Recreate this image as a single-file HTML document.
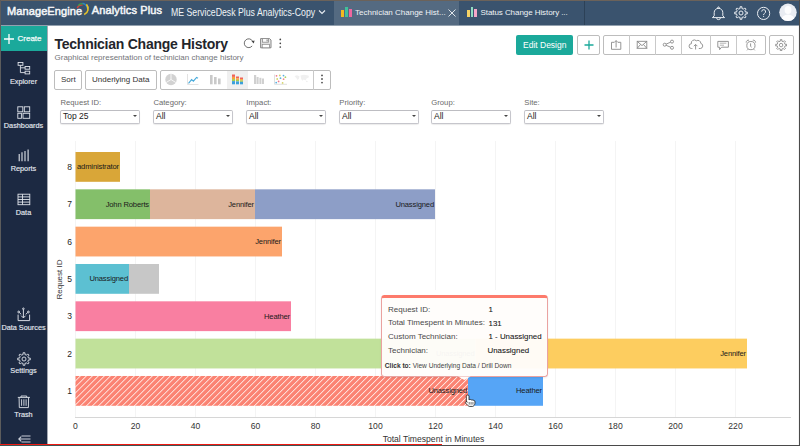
<!DOCTYPE html>
<html><head><meta charset="utf-8"><style>
*{box-sizing:border-box;margin:0;padding:0}
html,body{width:800px;height:446px;overflow:hidden;background:#fff;font-family:"Liberation Sans",sans-serif}
#root svg text{font-family:"Liberation Sans",sans-serif}
#root{position:relative;width:800px;height:446px;overflow:hidden;background:#fff}
.a{position:absolute;white-space:nowrap}
#nav{position:absolute;left:0;top:0;width:800px;height:25px;background:#3a536e}
#side{position:absolute;left:0;top:26px;width:47px;height:420px;background:#1c2942}
#create{position:absolute;left:0;top:26px;width:47px;height:25px;background:#1ba99b}
.sl{position:absolute;left:0;width:47px;text-align:center;color:#e3e7ee;font-size:7.3px;line-height:9px;-webkit-text-stroke:0.15px #e3e7ee}
.btn{position:absolute;border:1px solid #bdbdbd;border-radius:2px;background:#fff}
.flab{position:absolute;font-size:7.7px;color:#6a6a6a;top:98px}
.sel{position:absolute;top:110px;width:80px;height:14px;border:1px solid #c6c6cc;border-top-color:#bdbdc2;border-radius:2px;background:#fff;font-size:8.5px;color:#222;padding-left:2px;line-height:11px;box-shadow:0 1px 1px rgba(0,0,0,.08)}
.tv{font-size:7.9px;color:#161616;line-height:10px;-webkit-text-stroke:0.08px #161616}
.sel:after{content:"";position:absolute;right:1.6px;top:3.6px;border-left:2.4px solid transparent;border-right:2.4px solid transparent;border-top:2.8px solid #444}
</style></head><body><div id="root">
<div id="nav">
<div class="a" style="left:7px;top:4.7px;font-size:11px;color:#f4f6f8;line-height:12px;letter-spacing:0.1px;-webkit-text-stroke:0.5px #f4f6f8">ManageEngine</div>
<svg class="a" style="left:74px;top:1px" width="16" height="16" viewBox="0 0 16 16" fill="none" stroke-width="1.3">
<path d="M3.2 7.2 A4.5 4.5 0 0 1 8.6 4.2" stroke="#d9413c"/>
<path d="M4 4.6 A5.6 5.6 0 0 1 10.6 3.2" stroke="#3ea04a"/>
<path d="M8.5 2.2 A6.4 6.4 0 0 1 13.2 7.5" stroke="#2c7fc4"/>
<path d="M12.4 3.4 A6.4 6.4 0 0 1 10.2 13.6" stroke="#e6c22a" stroke-width="1.6"/>
</svg>
<div class="a" style="left:91.7px;top:4.3px;font-size:11px;color:#f4f6f8;line-height:12px;letter-spacing:0.15px;-webkit-text-stroke:0.5px #f4f6f8">Analytics Plus</div>
<div class="a" style="left:170.8px;top:6.6px;font-size:10.2px;color:#f0f3f6;line-height:12px;letter-spacing:0;transform:scaleX(0.857);transform-origin:0 0">ME ServiceDesk Plus Analytics-Copy</div>
<svg class="a" style="left:318px;top:9px" width="8" height="6" viewBox="0 0 8 6"><path d="M1 1.5 L4 4.5 L7 1.5" stroke="#e8edf2" stroke-width="1.1" fill="none"/></svg>
<div class="a" style="left:334px;top:1px;width:125px;height:24px;background:#546a81"></div>
<div class="a" style="left:341px;top:10px;width:3px;height:7px;background:#f5ba1e"></div>
<div class="a" style="left:345px;top:7px;width:3px;height:10px;background:#41c09b"></div>
<div class="a" style="left:348.5px;top:8.5px;width:3px;height:8.5px;background:#ef669f"></div>
<div class="a" style="left:355px;top:8.4px;font-size:8px;color:#f0f3f6;line-height:10px">Technician Change Hist...</div>
<svg class="a" style="left:447px;top:8px" width="10" height="10" viewBox="0 0 10 10"><path d="M1.5 1.5 L8.5 8.5 M8.5 1.5 L1.5 8.5" stroke="#dfe5ea" stroke-width="1"/></svg>
<div class="a" style="left:467px;top:10px;width:2.5px;height:7px;background:#f5d266"></div>
<div class="a" style="left:470.5px;top:7px;width:2.5px;height:10px;background:#8fdcc3"></div>
<div class="a" style="left:474px;top:8.5px;width:2.5px;height:8.5px;background:#f5a6c8"></div>
<div class="a" style="left:480.5px;top:8.4px;font-size:8px;color:#f0f3f6;line-height:10px;letter-spacing:-0.07px">Status Change History ...</div>
<div class="a" style="left:584px;top:1px;width:1px;height:24px;background:#2c4157"></div>
</div>
<div id="side">
<svg class="a" style="left:16px;top:34px" width="16" height="16" viewBox="16 60 16 16" fill="none" stroke="#dfe3ea" stroke-width="0.9">
<rect x="18.1" y="62.5" width="4.8" height="2.8"/><rect x="25.1" y="66.5" width="4.6" height="2.7"/><rect x="25.1" y="71.2" width="4.6" height="2.7"/>
<path d="M20.4 65.3 V72.6 H25.1 M20.4 67.8 H25.1"/></svg>
<div class="sl" style="top:51px">Explorer</div>
<svg class="a" style="left:17px;top:79.5px" width="14" height="14" viewBox="0 0 14 14" fill="none" stroke="#dfe3ea" stroke-width="0.9">
<rect x="0.8" y="0.8" width="5" height="5"/><rect x="7.3" y="0.8" width="5.4" height="5"/><rect x="0.8" y="7.3" width="3.6" height="5"/><rect x="6" y="7.3" width="6.7" height="5"/></svg>
<div class="sl" style="top:94.5px">Dashboards</div>
<svg class="a" style="left:18px;top:123px" width="12" height="13" viewBox="0 0 12 13" fill="none" stroke="#dfe3ea" stroke-width="1.1">
<path d="M1.2 12.3 V5 M4 12.3 V3.3 M7 12.3 V1.9 M10.1 12.3 V0.6"/></svg>
<div class="sl" style="top:137.5px">Reports</div>
<svg class="a" style="left:16px;top:166px" width="16" height="14" viewBox="16 192 16 14" fill="none" stroke="#dfe3ea" stroke-width="0.9">
<rect x="18" y="194.2" width="11.8" height="10.5"/><path d="M18 196.9 H29.8 M18 199.5 H29.8 M18 202.1 H29.8 M22.5 194.2 V204.7"/></svg>
<div class="sl" style="top:182px">Data</div>
<svg class="a" style="left:16px;top:281px" width="16" height="16" viewBox="16 307 16 16" fill="none" stroke="#dfe3ea" stroke-width="0.95">
<path d="M18.1 314.6 V320.6 H29.6 V314.6"/><path d="M23.4 309.6 V317.8 M21.2 315.7 L23.4 317.9 L25.6 315.7"/>
<circle cx="18.7" cy="312" r="0.9"/><circle cx="28.4" cy="312" r="0.9"/><circle cx="23.4" cy="308.8" r="0.8"/>
<path d="M19.5 312.7 L21.2 314.3 M27.6 312.7 L25.7 314.3"/></svg>
<div class="sl" style="top:297px">Data Sources</div>
<svg class="a" style="left:17px;top:325.5px" width="14" height="14" viewBox="0 0 14 14" fill="none" stroke="#dfe3ea" stroke-width="0.9">
<path d="M6.14 2.48 L6.01 0.78 L7.99 0.78 L7.86 2.48 L9.59 3.20 L10.70 1.90 L12.10 3.30 L10.80 4.41 L11.52 6.14 L13.22 6.01 L13.22 7.99 L11.52 7.86 L10.80 9.59 L12.10 10.70 L10.70 12.10 L9.59 10.80 L7.86 11.52 L7.99 13.22 L6.01 13.22 L6.14 11.52 L4.41 10.80 L3.30 12.10 L1.90 10.70 L3.20 9.59 L2.48 7.86 L0.78 7.99 L0.78 6.01 L2.48 6.14 L3.20 4.41 L1.90 3.30 L3.30 1.90 L4.41 3.20 Z"/><circle cx="7" cy="7" r="2"/></svg>
<div class="sl" style="top:340px">Settings</div>
<svg class="a" style="left:16px;top:368px" width="16" height="16" viewBox="16 394 16 16" fill="none" stroke="#dfe3ea" stroke-width="0.9">
<path d="M17.8 397.4 H29.9 M21 397.4 V396 H26.7 V397.4 M19.1 397.4 L19.3 407.6 H28.4 L28.6 397.4 M21.6 399.3 V405.8 M23.9 399.3 V405.8 M26.1 399.3 V405.8"/></svg>
<div class="sl" style="top:384px">Trash</div>
<svg class="a" style="left:17.5px;top:409px" width="13" height="8" viewBox="0 0 13 8" fill="none" stroke="#c9ced8" stroke-width="1.1">
<path d="M3.5 1 H12.5 M0.8 4 H12.5 M3.5 7 H12.5 M3.2 1.6 L0.8 4 L3.2 6.4"/></svg>
</div>
<div id="create">
<svg class="a" style="left:4px;top:7.5px" width="10" height="10" viewBox="0 0 10 10"><path d="M5 0 V10 M0 5 H10" stroke="#fff" stroke-width="1.3"/></svg>
<div class="a" style="left:17.5px;top:8px;font-size:8px;color:#f2fbfa;line-height:10px;-webkit-text-stroke:0.25px #f2fbfa">Create</div>
</div>

<!-- chart -->
<svg class="a" style="left:0;top:0" width="800" height="446" viewBox="0 0 800 446">
<defs><pattern id="hatch" patternUnits="userSpaceOnUse" width="4.24" height="4.24" patternTransform="rotate(45)"><rect width="4.24" height="4.24" fill="#fb8373"/><rect x="0" y="0" width="0.85" height="4.24" fill="#ffebe6"/></pattern></defs>
<rect x="75.0" y="141" width="1" height="276" fill="#f4f4f4"/>
<rect x="135.0" y="141" width="1" height="276" fill="#f4f4f4"/>
<rect x="195.0" y="141" width="1" height="276" fill="#f4f4f4"/>
<rect x="255.0" y="141" width="1" height="276" fill="#f4f4f4"/>
<rect x="315.0" y="141" width="1" height="276" fill="#f4f4f4"/>
<rect x="375.0" y="141" width="1" height="276" fill="#f4f4f4"/>
<rect x="435.0" y="141" width="1" height="276" fill="#f4f4f4"/>
<rect x="495.0" y="141" width="1" height="276" fill="#f4f4f4"/>
<rect x="555.0" y="141" width="1" height="276" fill="#f4f4f4"/>
<rect x="615.0" y="141" width="1" height="276" fill="#f4f4f4"/>
<rect x="675.0" y="141" width="1" height="276" fill="#f4f4f4"/>
<rect x="735.0" y="141" width="1" height="276" fill="#f4f4f4"/>
<rect x="75" y="417" width="716" height="1" fill="#d6d6d6"/>
<text x="75.5" y="428.6" text-anchor="middle" font-size="8.6" fill="#333">0</text>
<text x="135.5" y="428.6" text-anchor="middle" font-size="8.6" fill="#333">20</text>
<text x="195.5" y="428.6" text-anchor="middle" font-size="8.6" fill="#333">40</text>
<text x="255.5" y="428.6" text-anchor="middle" font-size="8.6" fill="#333">60</text>
<text x="315.5" y="428.6" text-anchor="middle" font-size="8.6" fill="#333">80</text>
<text x="375.5" y="428.6" text-anchor="middle" font-size="8.6" fill="#333">100</text>
<text x="435.5" y="428.6" text-anchor="middle" font-size="8.6" fill="#333">120</text>
<text x="495.5" y="428.6" text-anchor="middle" font-size="8.6" fill="#333">140</text>
<text x="555.5" y="428.6" text-anchor="middle" font-size="8.6" fill="#333">160</text>
<text x="615.5" y="428.6" text-anchor="middle" font-size="8.6" fill="#333">180</text>
<text x="675.5" y="428.6" text-anchor="middle" font-size="8.6" fill="#333">200</text>
<text x="735.5" y="428.6" text-anchor="middle" font-size="8.6" fill="#333">220</text>
<text x="72" y="170.00" text-anchor="end" font-size="8.5" fill="#262626">8</text>
<rect x="75.5" y="152.00" width="44.5" height="29.8" fill="#d9a638"/>
<text x="119" y="169.40" text-anchor="end" font-size="7.6" letter-spacing="-0.15" fill="#1a1a1a">administrator</text>
<text x="72" y="207.33" text-anchor="end" font-size="8.5" fill="#262626">7</text>
<rect x="75.5" y="189.33" width="74.5" height="29.8" fill="#84bf6a"/>
<text x="149" y="206.73" text-anchor="end" font-size="7.6" letter-spacing="-0.15" fill="#1a1a1a">John Roberts</text>
<rect x="150" y="189.33" width="105" height="29.8" fill="#ddb59c"/>
<text x="254" y="206.73" text-anchor="end" font-size="7.6" letter-spacing="-0.15" fill="#1a1a1a">Jennifer</text>
<rect x="255" y="189.33" width="180" height="29.8" fill="#8d9ec7"/>
<text x="434" y="206.73" text-anchor="end" font-size="7.6" letter-spacing="-0.15" fill="#1a1a1a">Unassigned</text>
<text x="72" y="244.66" text-anchor="end" font-size="8.5" fill="#262626">6</text>
<rect x="75.5" y="226.66" width="206.5" height="29.8" fill="#fca46c"/>
<text x="281" y="244.06" text-anchor="end" font-size="7.6" letter-spacing="-0.15" fill="#1a1a1a">Jennifer</text>
<text x="72" y="281.99" text-anchor="end" font-size="8.5" fill="#262626">5</text>
<rect x="75.5" y="263.99" width="53.5" height="29.8" fill="#5cc0d2"/>
<text x="128" y="281.39" text-anchor="end" font-size="7.6" letter-spacing="-0.15" fill="#1a1a1a">Unassigned</text>
<rect x="129" y="263.99" width="30" height="29.8" fill="#c7c7c7"/>
<text x="72" y="319.32" text-anchor="end" font-size="8.5" fill="#262626">3</text>
<rect x="75.5" y="301.32" width="215.5" height="29.8" fill="#f97fa1"/>
<text x="290" y="318.72" text-anchor="end" font-size="7.6" letter-spacing="-0.15" fill="#1a1a1a">Heather</text>
<text x="72" y="356.65" text-anchor="end" font-size="8.5" fill="#262626">2</text>
<rect x="75.5" y="338.65" width="400" height="29.8" fill="#c1e19a"/>
<text x="474.5" y="356.05" text-anchor="end" font-size="7.6" letter-spacing="-0.15" fill="#1a1a1a">Unassigned</text>
<rect x="475.5" y="338.65" width="271.5" height="29.8" fill="#fdcd5f"/>
<text x="746" y="356.05" text-anchor="end" font-size="7.6" letter-spacing="-0.15" fill="#1a1a1a">Jennifer</text>
<text x="72" y="393.98" text-anchor="end" font-size="8.5" fill="#262626">1</text>
<rect x="75.5" y="375.98" width="392.5" height="29.8" fill="url(#hatch)"/>
<text x="467" y="393.38" text-anchor="end" font-size="7.6" letter-spacing="-0.15" fill="#1a1a1a">Unassigned</text>
<rect x="468" y="375.98" width="75" height="29.8" fill="#56a5f6"/>
<text x="542" y="393.38" text-anchor="end" font-size="7.6" letter-spacing="-0.15" fill="#1a1a1a">Heather</text>
<text x="433.5" y="441.5" text-anchor="middle" font-size="8.6" fill="#333">Total Timespent in Minutes</text>
<text transform="translate(61.7 279.5) rotate(-90)" text-anchor="middle" font-size="8" fill="#333">Request ID</text>
</svg>
<!-- header -->
<div class="a" style="left:54.5px;top:36px;font-size:14px;font-weight:bold;color:#23252b;line-height:16px;letter-spacing:-0.25px">Technician Change History</div>
<div class="a" style="left:54.5px;top:53px;font-size:8px;color:#727478;line-height:10px">Graphical representation of technician change history</div>
<svg class="a" style="left:240px;top:34px" width="36" height="18" viewBox="240 34 36 18">
<path d="M252.17 45.93 A4.4 4.4 0 1 1 252.6 41.2" fill="none" stroke="#555" stroke-width="0.85"/>
<path d="M251.5 41.2 L254.6 40.4 L253.8 43.4 Z" fill="#444"/>
<path d="M260.6 38.6 H269.6 L271 40 V47.8 H260.6 Z" fill="#e9e9e9" stroke="#7a7a7a" stroke-width="0.9"/>
<rect x="262.4" y="38.6" width="6" height="3.6" fill="#fafafa" stroke="#8a8a8a" stroke-width="0.8"/>
<rect x="262.2" y="44.3" width="7.2" height="3.5" fill="#fff" stroke="#8a8a8a" stroke-width="0.8"/>
<rect x="266.6" y="39.4" width="1" height="2" fill="#777"/>
</svg>
<svg class="a" style="left:277px;top:36px" width="6" height="14" viewBox="277 36 6 14"><circle cx="280.3" cy="39.4" r="0.85" fill="#444"/><circle cx="280.3" cy="43.3" r="0.85" fill="#444"/><circle cx="280.3" cy="47" r="0.85" fill="#444"/></svg>
<!-- toolbar -->
<div class="btn" style="left:54px;top:70px;width:28px;height:20px"></div>
<div class="a" style="left:61px;top:75px;font-size:8px;color:#333;line-height:10px">Sort</div>
<div class="btn" style="left:85px;top:70px;width:72px;height:20px"></div>
<div class="a" style="left:92px;top:75px;font-size:8px;color:#333;line-height:10px">Underlying Data</div>
<div class="btn" style="left:159.5px;top:70px;width:171px;height:20px"></div>
<div class="a" style="left:313px;top:70px;width:1px;height:20px;background:#c9c9c9"></div>
<div class="a" style="left:226.5px;top:71px;width:21px;height:18px;background:#f0f0f0"></div>
<!-- right toolbar -->
<div class="a" style="left:516px;top:35px;width:57px;height:19.5px;border-radius:2px;background:#1ba99b"></div>
<div class="a" style="left:523px;top:40px;font-size:8.5px;color:#fff;line-height:10px">Edit Design</div>
<div class="btn" style="left:577px;top:35px;width:23px;height:19.5px"></div>
<svg class="a" style="left:583.5px;top:40px" width="10" height="10" viewBox="0 0 10 10"><path d="M5 0.5 V9.5 M0.5 5 H9.5" stroke="#1ba99b" stroke-width="1.3"/></svg>
<div class="btn" style="left:603px;top:35px;width:162.5px;height:19.5px"></div>
<div class="a" style="left:629px;top:35px;width:1px;height:19.5px;background:#c9c9c9"></div>
<div class="a" style="left:655px;top:35px;width:1px;height:19.5px;background:#c9c9c9"></div>
<div class="a" style="left:681px;top:35px;width:1px;height:19.5px;background:#c9c9c9"></div>
<div class="a" style="left:710px;top:35px;width:1px;height:19.5px;background:#c9c9c9"></div>
<div class="a" style="left:736px;top:35px;width:1px;height:19.5px;background:#c9c9c9"></div>
<div class="btn" style="left:768.5px;top:35px;width:25.5px;height:19.5px"></div>
<!-- filters -->
<div class="flab" style="left:60.5px">Request ID:</div>
<div class="flab" style="left:153.4px">Category:</div>
<div class="flab" style="left:246.3px">Impact:</div>
<div class="flab" style="left:339.3px">Priority:</div>
<div class="flab" style="left:431.3px">Group:</div>
<div class="flab" style="left:524.3px">Site:</div>
<div class="sel" style="left:60px">Top 25</div>
<div class="sel" style="left:153px">All</div>
<div class="sel" style="left:246px">All</div>
<div class="sel" style="left:339px">All</div>
<div class="sel" style="left:431px">All</div>
<div class="sel" style="left:524px">All</div>

<!-- chart type icons -->
<svg class="a" style="left:159px;top:70px" width="172" height="20" viewBox="159 70 172 20">
<circle cx="171" cy="79.5" r="5.7" fill="#d2d2d2"/>
<path d="M171 79.5 V73.8 M171 79.5 L166.2 82.5 M171 79.5 L175.8 82.5" stroke="#fff" stroke-width="0.8"/>
<path d="M187.5 74 V84.5 H198.5" stroke="#dadada" stroke-width="0.8" fill="none"/>
<path d="M188.5 83.3 L191.6 79.6 L193.4 81.2 L196.6 77.4 L198 78.3" stroke="#47aadb" stroke-width="1.1" fill="none"/>
<rect x="210" y="75" width="2.6" height="9.3" fill="#c9c9c9"/><rect x="214" y="77" width="2.6" height="7.3" fill="#c9c9c9"/><rect x="218" y="78.5" width="2.6" height="5.8" fill="#c9c9c9"/>
<rect x="232" y="74.5" width="3" height="2.4" fill="#f0625a"/><rect x="232" y="76.9" width="3" height="2.2" fill="#f7a13c"/><rect x="232" y="79.1" width="3" height="2" fill="#a6cc4a"/><rect x="232" y="81.1" width="3" height="3.2" fill="#3aa0dc"/>
<rect x="236" y="76.5" width="3" height="1.8" fill="#f0625a"/><rect x="236" y="78.3" width="3" height="1.6" fill="#f7a13c"/><rect x="236" y="79.9" width="3" height="1.5" fill="#a6cc4a"/><rect x="236" y="81.4" width="3" height="2.9" fill="#3aa0dc"/>
<rect x="240" y="77.5" width="3" height="1.6" fill="#f0625a"/><rect x="240" y="79.1" width="3" height="1.4" fill="#f7a13c"/><rect x="240" y="80.5" width="3" height="1.3" fill="#a6cc4a"/><rect x="240" y="81.8" width="3" height="2.5" fill="#3aa0dc"/>
<rect x="254" y="75" width="2.2" height="9" fill="#d0d0d0"/><rect x="256.6" y="77" width="2" height="7" fill="#d0d0d0"/><rect x="259.4" y="77.8" width="2" height="6.2" fill="#d0d0d0"/><rect x="262" y="78.5" width="2" height="5.5" fill="#d0d0d0"/>
<path d="M274.5 74.5 V84.3 H287" stroke="#d8d8d8" stroke-width="0.8" fill="none"/>
<circle cx="276.5" cy="75.8" r="0.9" fill="#f07a8a"/><circle cx="279.8" cy="75.4" r="0.9" fill="#d4d46a"/><circle cx="283.5" cy="75.6" r="0.9" fill="#5ab0e0"/><circle cx="285.4" cy="77.2" r="0.9" fill="#a8d46a"/>
<circle cx="277.2" cy="79" r="0.9" fill="#d4d46a"/><circle cx="280.5" cy="78.2" r="0.9" fill="#5ab0e0"/><circle cx="283.6" cy="79.2" r="0.9" fill="#f08a8a"/><circle cx="278.6" cy="81.4" r="0.9" fill="#f07a8a"/>
<circle cx="276.2" cy="82.6" r="0.9" fill="#5ab0e0"/><circle cx="282.6" cy="82.9" r="0.9" fill="#d4d46a"/>
<path d="M294.5 76 L297 75.3 L299.5 76.2 L299 78.5 L297.5 80 L296.5 78.2 Z M300.5 75.5 L304 74.8 L308.5 75.6 L309 77.3 L306.5 78.4 L305.5 80.6 L303.8 79.6 L302.2 80.8 L301 78.6 Z M306 80.8 L307.8 81 L307.5 82.3 L306 82 Z" fill="#f0f0f0"/>
<circle cx="322" cy="75.4" r="0.95" fill="#555"/><circle cx="322" cy="79" r="0.95" fill="#555"/><circle cx="322" cy="82.6" r="0.95" fill="#555"/>
</svg>
<!-- right toolbar icons -->
<svg class="a" style="left:600px;top:35px" width="200" height="20" viewBox="600 35 200 20" fill="none" stroke="#8a8a8a" stroke-width="0.9">
<path d="M614.2 42.3 H611.5 V49.3 H620.8 V42.3 H618"/><path d="M616.1 47.5 V40.6 M614.2 42.5 L616.1 40.6 L618 42.5"/>
<rect x="637.2" y="41.3" width="9.6" height="7"/><path d="M637.2 41.3 L642 45.6 L646.8 41.3 M637.2 48.3 L640.6 44.4 M646.8 48.3 L643.4 44.4"/>
<circle cx="672" cy="41.6" r="1.5"/><circle cx="664.7" cy="44.7" r="1.5"/><circle cx="672" cy="47.8" r="1.5"/><path d="M666.1 44.1 L670.6 42.2 M666.1 45.3 L670.6 47.2"/>
<path d="M692.4 48.5 H691.5 A2.4 2.4 0 0 1 691.4 43.7 A3 3 0 0 1 696.4 40.8 A2.9 2.9 0 0 1 700.8 43.4 A2.6 2.6 0 0 1 700.4 48.5 H698.8"/><path d="M695.6 49.5 V44.6 M693.8 46.2 L695.6 44.4 L697.4 46.2"/>
<path d="M717.8 41.4 H728.4 V47.2 H721.6 L719.6 49.6 V47.2 H717.8 Z"/><path d="M719.8 43.2 H726.4 M719.8 45.2 H724" stroke="#aaa"/>
<circle cx="750.9" cy="45.6" r="4.1"/><path d="M750.6 43.4 V46.4 L751.6 47.2 M746.2 42.6 A2.3 2.3 0 0 1 749 40.2 M752.8 40.2 A2.3 2.3 0 0 1 755.6 42.6 M747.9 49.3 L747 50.3 M753.9 49.3 L754.8 50.3"/>
</svg>
<svg class="a" style="left:775px;top:39px" width="12.2" height="12.2" viewBox="0 0 14 14" fill="none" stroke="#8a8a8a" stroke-width="1">
<path d="M6.14 2.48 L6.01 0.78 L7.99 0.78 L7.86 2.48 L9.59 3.20 L10.70 1.90 L12.10 3.30 L10.80 4.41 L11.52 6.14 L13.22 6.01 L13.22 7.99 L11.52 7.86 L10.80 9.59 L12.10 10.70 L10.70 12.10 L9.59 10.80 L7.86 11.52 L7.99 13.22 L6.01 13.22 L6.14 11.52 L4.41 10.80 L3.30 12.10 L1.90 10.70 L3.20 9.59 L2.48 7.86 L0.78 7.99 L0.78 6.01 L2.48 6.14 L3.20 4.41 L1.90 3.30 L3.30 1.90 L4.41 3.20 Z"/><circle cx="7" cy="7" r="2"/></svg>
<!-- nav right icons -->
<svg class="a" style="left:705px;top:0" width="95" height="26" viewBox="705 0 95 26" fill="none" stroke="#e9edf2" stroke-width="1">
<path d="M714.2 15.8 V12.6 A4.3 4.3 0 0 1 722.8 12.6 V15.8 L724.6 17.6 H712.4 Z"/><path d="M716.7 18.1 A1.8 1.5 0 0 0 720.3 18.1"/><circle cx="718.5" cy="7.7" r="0.8"/>
<circle cx="763.6" cy="13.4" r="6.1"/><path d="M761.7 11.6 A1.95 1.95 0 1 1 764.6 13.3 C763.9 13.7 763.6 14.1 763.6 15.1"/><path d="M763.6 16.1 V17"/>
</svg>
<svg class="a" style="left:733.8px;top:6.4px" width="14" height="14" viewBox="0 0 14 14" fill="none" stroke="#e9edf2" stroke-width="1">
<path d="M6.14 2.48 L6.01 0.78 L7.99 0.78 L7.86 2.48 L9.59 3.20 L10.70 1.90 L12.10 3.30 L10.80 4.41 L11.52 6.14 L13.22 6.01 L13.22 7.99 L11.52 7.86 L10.80 9.59 L12.10 10.70 L10.70 12.10 L9.59 10.80 L7.86 11.52 L7.99 13.22 L6.01 13.22 L6.14 11.52 L4.41 10.80 L3.30 12.10 L1.90 10.70 L3.20 9.59 L2.48 7.86 L0.78 7.99 L0.78 6.01 L2.48 6.14 L3.20 4.41 L1.90 3.30 L3.30 1.90 L4.41 3.20 Z"/><circle cx="7" cy="7" r="2"/></svg>
<svg class="a" style="left:778px;top:2px" width="20" height="21" viewBox="778 2 20 21">
<defs><clipPath id="av"><circle cx="788" cy="12.3" r="8.7"/></clipPath></defs>
<circle cx="788" cy="12.3" r="8.7" fill="#e9ecf2"/>
<g clip-path="url(#av)" fill="#fdfdfe"><ellipse cx="788" cy="10" rx="3.4" ry="3.9"/><ellipse cx="788" cy="20.5" rx="6.8" ry="6"/></g>
</svg>
<!-- tooltip -->
<div class="a" style="left:382px;top:289.5px;width:165px;height:6px;background:rgba(255,255,255,0.92)"></div>
<div class="a" style="left:381px;top:294.5px;width:167px;height:82.5px;background:rgba(255,253,251,0.96);border:1px solid #eaa2a0;border-top:3px solid #fd7a6b;border-radius:3.5px;box-shadow:0 1px 2px rgba(0,0,0,.08)"></div>
<svg class="a" style="left:458px;top:376px" width="13" height="5" viewBox="0 0 13 5"><path d="M0 0.5 L6.3 0.5 L12.6 0.5 L6.3 4 Z" fill="#fffdfb"/></svg>
<div class="a" style="left:388px;top:304.6px;font-size:8px;color:#4a4a4a;line-height:10px">Request ID:</div>
<div class="a" style="left:388px;top:318.4px;font-size:8px;color:#4a4a4a;line-height:10px">Total Timespent in Minutes:</div>
<div class="a" style="left:388px;top:331.9px;font-size:8px;color:#4a4a4a;line-height:10px">Custom Technician:</div>
<div class="a" style="left:388px;top:345.8px;font-size:8px;color:#4a4a4a;line-height:10px">Technician:</div>
<div class="a tv" style="left:488.5px;top:304.7px">1</div>
<div class="a tv" style="left:488.5px;top:318.5px">131</div>
<div class="a tv" style="left:488.5px;top:332px">1 - Unassigned</div>
<div class="a tv" style="left:487.5px;top:345.8px">Unassigned</div>
<div class="a" style="left:384.8px;top:361.8px;font-size:6.6px;color:#444;line-height:8px"><b style="color:#333">Click to:</b> View Underlying Data / Drill Down</div>
<!-- cursor -->
<svg class="a" style="left:463.4px;top:393.9px" width="14.5" height="13.6" viewBox="0 0 14 16" preserveAspectRatio="none">
<path d="M4.5 1.2 C5.4 1.2 5.8 1.8 5.8 2.6 V7 L6.2 6.6 C6.8 6.2 7.6 6.4 7.9 7 C8.5 6.6 9.3 6.8 9.6 7.4 C10.2 7.1 11 7.3 11.3 8 C11.6 8.6 11.7 10 11.5 11.4 C11.2 13 10.4 14.2 9.4 14.6 H6 C5 14 3.8 12.6 2.6 10.8 C2.1 10 2.2 9.4 2.8 9.1 C3.3 8.9 3.8 9.2 4.2 9.7 L3.2 8.4 V2.6 C3.2 1.8 3.6 1.2 4.5 1.2 Z" fill="#fff" stroke="#222" stroke-width="0.9"/>
<path d="M6 9.5 V12.5 M7.8 9.5 V12.5 M9.6 9.5 V12.5" stroke="#222" stroke-width="0.7"/>
</svg>
<!-- frame -->
<div class="a" style="left:1px;top:25px;width:798px;height:1px;background:rgba(58,83,110,0.55)"></div>
<div class="a" style="left:47px;top:26px;width:1px;height:418px;background:rgba(28,41,66,0.4)"></div>
<div class="a" style="left:0;top:0;width:800px;height:1px;background:#6b625a"></div>
<div class="a" style="left:0;top:0;width:1px;height:446px;background:#5c5c5c"></div>
<div class="a" style="left:799px;top:0;width:1px;height:446px;background:#4b4b4b"></div><div class="a" style="left:798px;top:26px;width:1px;height:419px;background:#f4f4f4"></div>
<div class="a" style="left:0;top:445px;width:442px;height:1px;background:#3e5656"></div>
<div class="a" style="left:442px;top:445px;width:358px;height:1px;background:#4a4a4a"></div>
<div class="a" style="left:0;top:444px;width:442px;height:1px;background:#f01a12"></div>
</div></body></html>
